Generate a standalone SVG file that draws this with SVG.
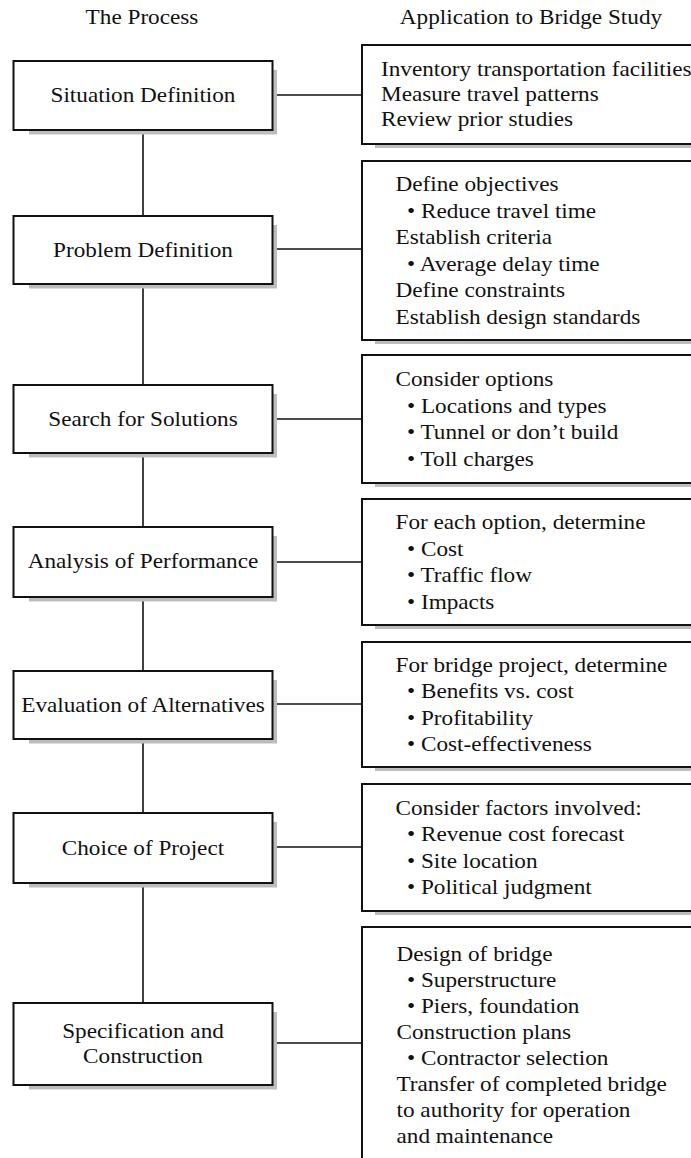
<svg xmlns="http://www.w3.org/2000/svg" width="691" height="1158" viewBox="0 0 691 1158">
<style>
  text { font-family: "Liberation Serif", "Times New Roman", serif; font-size: 21.5px; fill: #111; transform-box: fill-box; transform: scaleX(1.08); }
  .c { text-anchor: middle; transform-origin: 50% 50%; }
  .l { text-anchor: start; transform-origin: 0 50%; }
  .box { fill: #fff; stroke: #111; stroke-width: 2; }
  .shadow { fill: #bdbdbd; stroke: none; }
  .conn { stroke: #111; stroke-width: 1.6; fill: none; }
</style>
<rect x="0" y="0" width="691" height="1158" fill="#fff"/>

<g id="headers">
  <text class="c" x="142" y="24">The Process</text>
  <text class="c" x="531" y="24">Application to Bridge Study</text>
</g>

<g id="connectors">
  <line class="conn" x1="143" y1="130" x2="143" y2="216"/>
  <line class="conn" x1="143" y1="284" x2="143" y2="385"/>
  <line class="conn" x1="143" y1="453" x2="143" y2="527"/>
  <line class="conn" x1="143" y1="597" x2="143" y2="671"/>
  <line class="conn" x1="143" y1="739" x2="143" y2="813"/>
  <line class="conn" x1="143" y1="883" x2="143" y2="1003"/>
  <line class="conn" x1="272" y1="95" x2="362" y2="95"/>
  <line class="conn" x1="272" y1="249" x2="362" y2="249"/>
  <line class="conn" x1="272" y1="419" x2="362" y2="419"/>
  <line class="conn" x1="272" y1="562" x2="362" y2="562"/>
  <line class="conn" x1="272" y1="704" x2="362" y2="704"/>
  <line class="conn" x1="272" y1="847" x2="362" y2="847"/>
  <line class="conn" x1="272" y1="1043" x2="362" y2="1043"/>
</g>

<g id="situation-definition">
  <rect class="shadow" x="29" y="70" width="248" height="64.5"/>
  <rect class="box" x="13.5" y="61" width="259" height="69"/>
  <text class="c" x="143" y="102.5">Situation Definition</text>
</g>
<g id="problem-definition">
  <rect class="shadow" x="29" y="225" width="248" height="63.5"/>
  <rect class="box" x="13.5" y="216" width="259" height="68"/>
  <text class="c" x="143" y="257">Problem Definition</text>
</g>
<g id="search-for-solutions">
  <rect class="shadow" x="29" y="394" width="248" height="63.5"/>
  <rect class="box" x="13.5" y="385" width="259" height="68"/>
  <text class="c" x="143" y="426">Search for Solutions</text>
</g>
<g id="analysis-of-performance">
  <rect class="shadow" x="29" y="536" width="248" height="65.5"/>
  <rect class="box" x="13.5" y="527" width="259" height="70"/>
  <text class="c" x="143" y="568.5">Analysis of Performance</text>
</g>
<g id="evaluation-of-alternatives">
  <rect class="shadow" x="29" y="680" width="248" height="63.5"/>
  <rect class="box" x="13.5" y="671" width="259" height="68"/>
  <text class="c" x="143" y="712">Evaluation of Alternatives</text>
</g>
<g id="choice-of-project">
  <rect class="shadow" x="29" y="822" width="248" height="65.5"/>
  <rect class="box" x="13.5" y="813" width="259" height="70"/>
  <text class="c" x="143" y="855">Choice of Project</text>
</g>
<g id="specification-and-construction">
  <rect class="shadow" x="29" y="1012" width="248" height="77.5"/>
  <rect class="box" x="13.5" y="1003" width="259" height="82"/>
  <text class="c" x="143" y="1038">Specification and</text>
  <text class="c" x="143" y="1063">Construction</text>
</g>

<g id="app-situation">
  <rect class="shadow" x="375" y="60" width="330" height="88"/>
  <rect class="box" x="362" y="45" width="340" height="99"/>
  <text class="l" x="381" y="76.5">Inventory transportation facilities</text>
  <text class="l" x="381" y="101.5">Measure travel patterns</text>
  <text class="l" x="381" y="126.5">Review prior studies</text>
</g>
<g id="app-problem">
  <rect class="shadow" x="375" y="176" width="330" height="168"/>
  <rect class="box" x="362" y="161" width="340" height="179"/>
  <text class="l" x="395.5" y="191.5">Define objectives</text>
  <text class="l" x="407" y="218">• Reduce travel time</text>
  <text class="l" x="395.5" y="244.5">Establish criteria</text>
  <text class="l" x="407" y="271">• Average delay time</text>
  <text class="l" x="395.5" y="297.5">Define constraints</text>
  <text class="l" x="395.5" y="324">Establish design standards</text>
</g>
<g id="app-search">
  <rect class="shadow" x="375" y="370" width="330" height="117"/>
  <rect class="box" x="362" y="355" width="340" height="128"/>
  <text class="l" x="395.5" y="386">Consider options</text>
  <text class="l" x="407" y="413">• Locations and types</text>
  <text class="l" x="407" y="439">• Tunnel or don’t build</text>
  <text class="l" x="407" y="466">• Toll charges</text>
</g>
<g id="app-analysis">
  <rect class="shadow" x="375" y="514" width="330" height="115"/>
  <rect class="box" x="362" y="499" width="340" height="126"/>
  <text class="l" x="395.5" y="529">For each option, determine</text>
  <text class="l" x="407" y="556">• Cost</text>
  <text class="l" x="407" y="582">• Traffic flow</text>
  <text class="l" x="407" y="609">• Impacts</text>
</g>
<g id="app-evaluation">
  <rect class="shadow" x="375" y="657" width="330" height="114"/>
  <rect class="box" x="362" y="642" width="340" height="125"/>
  <text class="l" x="395.5" y="672">For bridge project, determine</text>
  <text class="l" x="407" y="698">• Benefits vs. cost</text>
  <text class="l" x="407" y="725">• Profitability</text>
  <text class="l" x="407" y="751">• Cost-effectiveness</text>
</g>
<g id="app-choice">
  <rect class="shadow" x="375" y="799" width="330" height="116"/>
  <rect class="box" x="362" y="784" width="340" height="127"/>
  <text class="l" x="395.5" y="815">Consider factors involved:</text>
  <text class="l" x="407" y="841">• Revenue cost forecast</text>
  <text class="l" x="407" y="868">• Site location</text>
  <text class="l" x="407" y="894">• Political judgment</text>
</g>
<g id="app-specification">
  <rect class="box" x="362" y="927" width="340" height="250"/>
  <text class="l" x="396.5" y="961">Design of bridge</text>
  <text class="l" x="407" y="987">• Superstructure</text>
  <text class="l" x="407" y="1013">• Piers, foundation</text>
  <text class="l" x="396.5" y="1039">Construction plans</text>
  <text class="l" x="407" y="1065">• Contractor selection</text>
  <text class="l" x="396.5" y="1091">Transfer of completed bridge</text>
  <text class="l" x="396.5" y="1117">to authority for operation</text>
  <text class="l" x="396.5" y="1143">and maintenance</text>
</g>
</svg>
